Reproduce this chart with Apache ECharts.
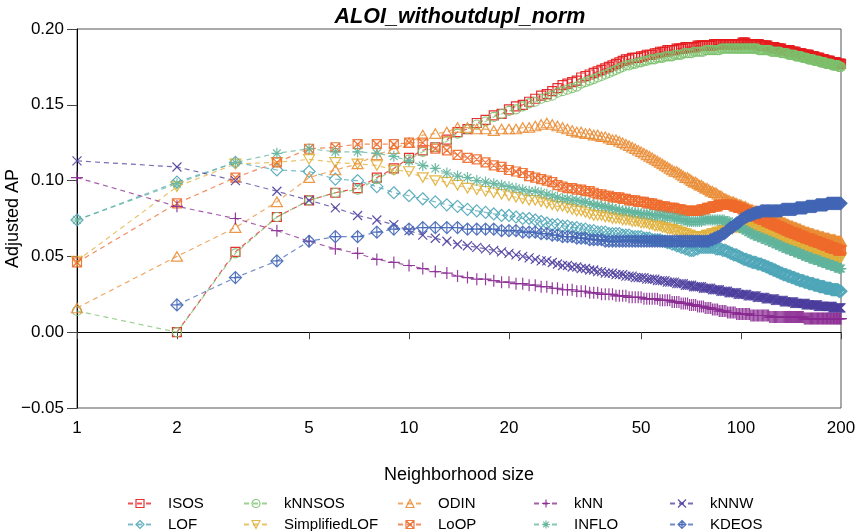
<!DOCTYPE html>
<html>
<head>
<meta charset="utf-8">
<script src="https://cdn.jsdelivr.net/npm/echarts@6/dist/echarts.min.js"></script>
<style>
  html, body { margin: 0; padding: 0; background: #ffffff; }
  #chart { width: 857px; height: 531px; }
</style>
</head>
<body>
<div id="chart"></div>
<script>
// Neighborhood size k runs from 1 to 200; each array below holds Adjusted AP for k = 1..200.
const neighborhoodSizes = Array.from({ length: 200 }, (_, i) => i + 1);
const xTickValues = [1, 2, 5, 10, 20, 50, 100, 200];

const isos = [
  null,0.000,0.053,0.076,0.087,0.092,0.095,0.102,0.108,0.115,
  0.120,0.122,0.127,0.132,0.134,0.138,0.140,0.143,0.144,0.147,
  0.149,0.150,0.152,0.154,0.156,0.157,0.159,0.161,0.163,0.164,
  0.165,0.166,0.168,0.169,0.170,0.171,0.172,0.173,0.174,0.175,
  0.176,0.177,0.178,0.179,0.180,0.180,0.181,0.181,0.181,0.182,
  0.182,0.183,0.183,0.183,0.184,0.184,0.185,0.185,0.185,0.186,
  0.186,0.186,0.186,0.187,0.187,0.187,0.187,0.188,0.188,0.188,
  0.188,0.188,0.188,0.189,0.189,0.189,0.189,0.189,0.189,0.189,
  0.189,0.189,0.190,0.190,0.190,0.190,0.190,0.190,0.190,0.190,
  0.190,0.190,0.190,0.190,0.190,0.190,0.190,0.190,0.190,0.190,
  0.191,0.191,0.191,0.190,0.190,0.190,0.190,0.190,0.190,0.190,
  0.190,0.190,0.190,0.189,0.189,0.189,0.189,0.189,0.189,0.189,
  0.188,0.188,0.188,0.188,0.188,0.188,0.187,0.187,0.187,0.187,
  0.187,0.187,0.186,0.186,0.186,0.186,0.186,0.186,0.186,0.186,
  0.185,0.185,0.185,0.185,0.185,0.185,0.184,0.184,0.184,0.184,
  0.184,0.184,0.183,0.183,0.183,0.183,0.183,0.183,0.183,0.183,
  0.182,0.182,0.182,0.182,0.182,0.182,0.181,0.181,0.181,0.181,
  0.181,0.181,0.180,0.180,0.180,0.180,0.180,0.180,0.179,0.179,
  0.179,0.179,0.179,0.179,0.179,0.178,0.178,0.178,0.178,0.178,
  0.178,0.178,0.178,0.177,0.177,0.177,0.177,0.177,0.177,0.177
];

const knnsos = [
  0.014,0.000,0.052,0.076,0.087,0.092,0.094,0.101,0.107,0.114,
  0.119,0.122,0.126,0.131,0.134,0.137,0.139,0.142,0.144,0.146,
  0.147,0.149,0.151,0.152,0.154,0.155,0.156,0.158,0.159,0.160,
  0.161,0.162,0.164,0.165,0.166,0.167,0.168,0.169,0.170,0.171,
  0.172,0.173,0.174,0.175,0.176,0.176,0.177,0.177,0.178,0.178,
  0.179,0.179,0.180,0.180,0.180,0.181,0.181,0.181,0.182,0.182,
  0.182,0.182,0.183,0.183,0.183,0.183,0.184,0.184,0.184,0.184,
  0.184,0.185,0.185,0.185,0.185,0.185,0.185,0.186,0.186,0.186,
  0.186,0.186,0.186,0.186,0.186,0.186,0.187,0.187,0.187,0.187,
  0.187,0.187,0.187,0.187,0.187,0.187,0.187,0.187,0.187,0.187,
  0.187,0.187,0.187,0.187,0.187,0.187,0.187,0.187,0.187,0.187,
  0.187,0.187,0.186,0.186,0.186,0.186,0.186,0.186,0.186,0.186,
  0.186,0.186,0.185,0.185,0.185,0.185,0.185,0.185,0.185,0.185,
  0.185,0.184,0.184,0.184,0.184,0.184,0.184,0.184,0.183,0.183,
  0.183,0.183,0.183,0.183,0.183,0.182,0.182,0.182,0.182,0.182,
  0.182,0.182,0.181,0.181,0.181,0.181,0.181,0.181,0.180,0.180,
  0.180,0.180,0.180,0.180,0.180,0.179,0.179,0.179,0.179,0.179,
  0.179,0.179,0.178,0.178,0.178,0.178,0.178,0.178,0.178,0.177,
  0.177,0.177,0.177,0.177,0.177,0.177,0.177,0.176,0.176,0.176,
  0.176,0.176,0.176,0.176,0.176,0.176,0.175,0.175,0.175,0.175
];

const odin = [
  0.016,0.050,0.069,0.086,0.102,0.107,0.111,0.117,0.121,0.125,
  0.130,0.131,0.132,0.135,0.135,0.134,0.134,0.133,0.134,0.134,
  0.134,0.135,0.135,0.136,0.137,0.138,0.137,0.136,0.135,0.134,
  0.133,0.132,0.132,0.131,0.131,0.130,0.130,0.129,0.129,0.128,
  0.127,0.127,0.126,0.125,0.124,0.123,0.122,0.121,0.120,0.119,
  0.118,0.117,0.116,0.115,0.114,0.113,0.112,0.111,0.110,0.109,
  0.108,0.107,0.106,0.106,0.105,0.104,0.103,0.102,0.102,0.101,
  0.100,0.099,0.099,0.098,0.097,0.097,0.096,0.095,0.095,0.094,
  0.093,0.093,0.092,0.092,0.091,0.090,0.090,0.089,0.088,0.088,
  0.087,0.087,0.086,0.086,0.086,0.085,0.085,0.084,0.084,0.084,
  0.083,0.083,0.083,0.082,0.082,0.081,0.081,0.081,0.080,0.080,
  0.080,0.079,0.079,0.079,0.078,0.078,0.078,0.077,0.077,0.077,
  0.077,0.076,0.076,0.076,0.075,0.075,0.075,0.074,0.074,0.074,
  0.073,0.073,0.073,0.072,0.072,0.072,0.071,0.071,0.071,0.070,
  0.070,0.070,0.070,0.069,0.069,0.069,0.069,0.068,0.068,0.068,
  0.068,0.067,0.067,0.067,0.067,0.066,0.066,0.066,0.066,0.066,
  0.065,0.065,0.065,0.065,0.065,0.064,0.064,0.064,0.064,0.064,
  0.064,0.063,0.063,0.063,0.063,0.063,0.063,0.062,0.062,0.062,
  0.062,0.062,0.062,0.062,0.061,0.061,0.061,0.061,0.061,0.061,
  0.061,0.061,0.060,0.060,0.060,0.060,0.060,0.060,0.060,0.060
];

const loop = [
  0.046,0.085,0.102,0.112,0.121,0.122,0.124,0.124,0.124,0.125,
  0.125,0.121,0.120,0.117,0.115,0.114,0.112,0.110,0.109,0.107,
  0.106,0.105,0.103,0.102,0.101,0.100,0.099,0.097,0.096,0.095,
  0.095,0.094,0.094,0.093,0.093,0.092,0.091,0.091,0.090,0.090,
  0.089,0.089,0.089,0.088,0.088,0.087,0.087,0.087,0.086,0.086,
  0.086,0.085,0.085,0.085,0.084,0.084,0.083,0.083,0.083,0.082,
  0.082,0.082,0.082,0.081,0.081,0.081,0.080,0.080,0.080,0.080,
  0.080,0.080,0.080,0.080,0.080,0.081,0.081,0.081,0.082,0.082,
  0.082,0.083,0.083,0.083,0.083,0.084,0.084,0.084,0.084,0.084,
  0.084,0.084,0.084,0.084,0.083,0.083,0.083,0.082,0.082,0.082,
  0.081,0.081,0.080,0.080,0.079,0.079,0.078,0.078,0.077,0.077,
  0.076,0.076,0.075,0.075,0.075,0.074,0.074,0.074,0.073,0.073,
  0.073,0.072,0.072,0.072,0.071,0.071,0.071,0.070,0.070,0.070,
  0.069,0.069,0.069,0.068,0.068,0.068,0.067,0.067,0.067,0.066,
  0.066,0.066,0.066,0.065,0.065,0.065,0.065,0.064,0.064,0.064,
  0.064,0.063,0.063,0.063,0.063,0.062,0.062,0.062,0.062,0.062,
  0.061,0.061,0.061,0.061,0.060,0.060,0.060,0.060,0.060,0.059,
  0.059,0.059,0.059,0.059,0.058,0.058,0.058,0.058,0.058,0.057,
  0.057,0.057,0.057,0.057,0.056,0.056,0.056,0.056,0.056,0.055,
  0.055,0.055,0.055,0.055,0.055,0.054,0.054,0.054,0.054,0.054
];

const inflo = [
  0.074,0.098,0.112,0.118,0.121,0.119,0.119,0.118,0.116,0.113,
  0.110,0.108,0.105,0.103,0.102,0.100,0.099,0.098,0.097,0.096,
  0.095,0.094,0.093,0.093,0.092,0.091,0.090,0.089,0.088,0.088,
  0.087,0.087,0.086,0.086,0.085,0.084,0.084,0.083,0.083,0.082,
  0.082,0.081,0.081,0.080,0.080,0.080,0.079,0.079,0.079,0.078,
  0.078,0.078,0.078,0.077,0.077,0.077,0.077,0.077,0.076,0.076,
  0.076,0.076,0.075,0.075,0.075,0.074,0.074,0.074,0.073,0.073,
  0.073,0.073,0.073,0.073,0.073,0.073,0.074,0.074,0.074,0.074,
  0.074,0.074,0.074,0.074,0.074,0.074,0.074,0.074,0.074,0.073,
  0.073,0.073,0.072,0.072,0.071,0.071,0.070,0.070,0.069,0.069,
  0.068,0.068,0.067,0.067,0.066,0.066,0.065,0.065,0.064,0.064,
  0.064,0.063,0.063,0.063,0.062,0.062,0.062,0.061,0.061,0.061,
  0.060,0.060,0.060,0.059,0.059,0.059,0.058,0.058,0.058,0.057,
  0.057,0.057,0.056,0.056,0.056,0.055,0.055,0.055,0.055,0.054,
  0.054,0.054,0.054,0.053,0.053,0.053,0.053,0.052,0.052,0.052,
  0.052,0.051,0.051,0.051,0.051,0.050,0.050,0.050,0.050,0.049,
  0.049,0.049,0.049,0.049,0.048,0.048,0.048,0.048,0.048,0.047,
  0.047,0.047,0.047,0.047,0.046,0.046,0.046,0.046,0.046,0.045,
  0.045,0.045,0.045,0.045,0.045,0.044,0.044,0.044,0.044,0.044,
  0.043,0.043,0.043,0.043,0.043,0.043,0.042,0.042,0.042,0.042
];

const simplifiedLof = [
  0.047,0.096,0.111,0.112,0.114,0.112,0.111,0.110,0.107,0.106,
  0.102,0.100,0.099,0.097,0.095,0.094,0.093,0.092,0.091,0.090,
  0.089,0.088,0.087,0.087,0.086,0.085,0.084,0.083,0.083,0.082,
  0.081,0.080,0.080,0.079,0.078,0.077,0.077,0.077,0.076,0.076,
  0.075,0.075,0.075,0.074,0.074,0.074,0.073,0.073,0.073,0.072,
  0.072,0.072,0.071,0.071,0.070,0.070,0.070,0.069,0.069,0.068,
  0.068,0.068,0.067,0.067,0.066,0.066,0.065,0.065,0.064,0.064,
  0.063,0.063,0.063,0.063,0.063,0.063,0.063,0.063,0.064,0.064,
  0.064,0.065,0.065,0.065,0.066,0.066,0.066,0.067,0.067,0.067,
  0.068,0.068,0.068,0.068,0.069,0.069,0.069,0.069,0.069,0.069,
  0.069,0.069,0.069,0.069,0.069,0.069,0.069,0.068,0.068,0.068,
  0.068,0.067,0.067,0.067,0.066,0.066,0.066,0.065,0.065,0.065,
  0.064,0.064,0.064,0.063,0.063,0.063,0.062,0.062,0.062,0.061,
  0.061,0.061,0.061,0.060,0.060,0.060,0.060,0.059,0.059,0.059,
  0.059,0.058,0.058,0.058,0.058,0.057,0.057,0.057,0.057,0.056,
  0.056,0.056,0.056,0.056,0.055,0.055,0.055,0.055,0.055,0.054,
  0.054,0.054,0.054,0.054,0.053,0.053,0.053,0.053,0.053,0.053,
  0.052,0.052,0.052,0.052,0.052,0.052,0.051,0.051,0.051,0.051,
  0.051,0.051,0.051,0.050,0.050,0.050,0.050,0.050,0.050,0.050,
  0.050,0.050,0.050,0.050,0.050,0.050,0.049,0.049,0.049,0.049
];

const lof = [
  0.074,0.099,0.112,0.107,0.106,0.101,0.100,0.096,0.092,0.090,
  0.088,0.086,0.084,0.083,0.081,0.080,0.079,0.078,0.077,0.077,
  0.076,0.075,0.075,0.074,0.073,0.072,0.071,0.071,0.070,0.070,
  0.069,0.069,0.068,0.068,0.067,0.067,0.066,0.066,0.066,0.065,
  0.065,0.065,0.065,0.064,0.064,0.064,0.063,0.063,0.063,0.063,
  0.062,0.062,0.062,0.061,0.061,0.061,0.061,0.060,0.060,0.059,
  0.059,0.058,0.058,0.057,0.057,0.056,0.056,0.055,0.055,0.054,
  0.054,0.054,0.055,0.055,0.056,0.056,0.056,0.056,0.056,0.056,
  0.056,0.056,0.056,0.055,0.055,0.055,0.055,0.054,0.054,0.054,
  0.053,0.053,0.052,0.052,0.051,0.051,0.051,0.050,0.050,0.049,
  0.049,0.048,0.048,0.048,0.047,0.047,0.047,0.046,0.046,0.046,
  0.046,0.045,0.045,0.045,0.045,0.044,0.044,0.044,0.043,0.043,
  0.043,0.042,0.042,0.042,0.041,0.041,0.041,0.040,0.040,0.040,
  0.039,0.039,0.039,0.038,0.038,0.038,0.038,0.037,0.037,0.037,
  0.037,0.036,0.036,0.036,0.036,0.035,0.035,0.035,0.035,0.034,
  0.034,0.034,0.034,0.034,0.033,0.033,0.033,0.033,0.033,0.032,
  0.032,0.032,0.032,0.032,0.032,0.031,0.031,0.031,0.031,0.031,
  0.031,0.030,0.030,0.030,0.030,0.030,0.030,0.030,0.029,0.029,
  0.029,0.029,0.029,0.029,0.029,0.029,0.028,0.028,0.028,0.028,
  0.028,0.028,0.028,0.028,0.028,0.028,0.027,0.027,0.027,0.027
];

const kdeos = [
  null,0.018,0.036,0.047,0.060,0.063,0.063,0.066,0.068,0.068,
  0.069,0.069,0.069,0.069,0.068,0.068,0.068,0.068,0.067,0.067,
  0.067,0.066,0.066,0.066,0.065,0.065,0.064,0.064,0.063,0.063,
  0.063,0.062,0.062,0.062,0.061,0.061,0.061,0.061,0.060,0.060,
  0.060,0.060,0.060,0.060,0.060,0.060,0.060,0.060,0.060,0.060,
  0.060,0.060,0.060,0.060,0.060,0.060,0.060,0.060,0.060,0.060,
  0.060,0.060,0.060,0.060,0.060,0.060,0.060,0.060,0.060,0.060,
  0.060,0.060,0.060,0.060,0.060,0.060,0.060,0.060,0.060,0.060,
  0.061,0.061,0.062,0.062,0.063,0.063,0.064,0.065,0.065,0.066,
  0.067,0.068,0.069,0.069,0.070,0.071,0.072,0.072,0.073,0.074,
  0.075,0.075,0.076,0.076,0.077,0.077,0.077,0.078,0.078,0.078,
  0.079,0.079,0.079,0.079,0.080,0.080,0.080,0.080,0.080,0.080,
  0.080,0.080,0.080,0.080,0.080,0.080,0.080,0.080,0.080,0.080,
  0.080,0.080,0.081,0.081,0.081,0.081,0.081,0.081,0.081,0.081,
  0.081,0.081,0.081,0.081,0.081,0.081,0.082,0.082,0.082,0.082,
  0.082,0.082,0.082,0.082,0.082,0.082,0.082,0.083,0.083,0.083,
  0.083,0.083,0.083,0.083,0.083,0.083,0.083,0.083,0.084,0.084,
  0.084,0.084,0.084,0.084,0.084,0.084,0.084,0.084,0.084,0.084,
  0.084,0.085,0.085,0.085,0.085,0.085,0.085,0.085,0.085,0.085,
  0.085,0.085,0.085,0.085,0.085,0.085,0.085,0.085,0.085,0.085
];

const knnw = [
  0.113,0.109,0.100,0.093,0.087,0.082,0.077,0.074,0.071,0.067,
  0.064,0.062,0.060,0.058,0.057,0.056,0.055,0.054,0.053,0.052,
  0.051,0.050,0.049,0.048,0.047,0.047,0.046,0.045,0.044,0.044,
  0.043,0.043,0.042,0.042,0.041,0.041,0.040,0.040,0.039,0.039,
  0.039,0.038,0.038,0.038,0.037,0.037,0.037,0.036,0.036,0.036,
  0.036,0.035,0.035,0.035,0.035,0.034,0.034,0.034,0.034,0.033,
  0.033,0.033,0.033,0.032,0.032,0.032,0.032,0.031,0.031,0.031,
  0.031,0.030,0.030,0.030,0.030,0.030,0.029,0.029,0.029,0.029,
  0.029,0.028,0.028,0.028,0.028,0.028,0.027,0.027,0.027,0.027,
  0.027,0.026,0.026,0.026,0.026,0.026,0.026,0.025,0.025,0.025,
  0.025,0.025,0.025,0.025,0.024,0.024,0.024,0.024,0.024,0.024,
  0.024,0.023,0.023,0.023,0.023,0.023,0.023,0.023,0.022,0.022,
  0.022,0.022,0.022,0.022,0.022,0.022,0.021,0.021,0.021,0.021,
  0.021,0.021,0.021,0.021,0.020,0.020,0.020,0.020,0.020,0.020,
  0.020,0.020,0.020,0.020,0.019,0.019,0.019,0.019,0.019,0.019,
  0.019,0.019,0.019,0.019,0.019,0.019,0.018,0.018,0.018,0.018,
  0.018,0.018,0.018,0.018,0.018,0.018,0.018,0.018,0.018,0.018,
  0.017,0.017,0.017,0.017,0.017,0.017,0.017,0.017,0.017,0.017,
  0.017,0.017,0.017,0.017,0.017,0.017,0.017,0.017,0.016,0.016,
  0.016,0.016,0.016,0.016,0.016,0.016,0.016,0.016,0.016,0.016
];

const knn = [
  0.102,0.083,0.075,0.067,0.060,0.055,0.052,0.048,0.046,0.044,
  0.042,0.040,0.039,0.037,0.036,0.035,0.035,0.034,0.033,0.033,
  0.032,0.032,0.031,0.031,0.030,0.030,0.029,0.029,0.028,0.028,
  0.028,0.027,0.027,0.027,0.026,0.026,0.026,0.025,0.025,0.025,
  0.025,0.024,0.024,0.024,0.024,0.023,0.023,0.023,0.023,0.023,
  0.022,0.022,0.022,0.022,0.022,0.022,0.021,0.021,0.021,0.021,
  0.021,0.020,0.020,0.020,0.020,0.019,0.019,0.019,0.019,0.018,
  0.018,0.018,0.018,0.017,0.017,0.017,0.017,0.016,0.016,0.016,
  0.016,0.015,0.015,0.015,0.015,0.014,0.014,0.014,0.014,0.014,
  0.013,0.013,0.013,0.013,0.013,0.013,0.012,0.012,0.012,0.012,
  0.012,0.012,0.012,0.012,0.012,0.012,0.011,0.011,0.011,0.011,
  0.011,0.011,0.011,0.011,0.011,0.011,0.011,0.011,0.011,0.011,
  0.011,0.010,0.010,0.010,0.010,0.010,0.010,0.010,0.010,0.010,
  0.010,0.010,0.010,0.010,0.010,0.010,0.010,0.010,0.010,0.010,
  0.010,0.010,0.010,0.010,0.010,0.010,0.010,0.010,0.010,0.010,
  0.010,0.010,0.010,0.010,0.009,0.009,0.009,0.009,0.009,0.009,
  0.009,0.009,0.009,0.009,0.009,0.009,0.009,0.009,0.009,0.009,
  0.009,0.009,0.009,0.009,0.009,0.009,0.009,0.009,0.009,0.009,
  0.009,0.009,0.009,0.009,0.009,0.009,0.009,0.009,0.009,0.009,
  0.009,0.009,0.009,0.009,0.009,0.009,0.009,0.009,0.009,0.009
];

// Open marker outlines (stroked, not filled), one per method.
const SYM = {
  square:      'path://M0,0L10,0L10,10L0,10Z',
  diamond:     'path://M5,0L10,5L5,10L0,5Z',
  triUp:       'path://M5,0L10,8.66L0,8.66Z',
  triDown:     'path://M0,0L10,0L5,8.66Z',
  squareX:     'path://M0,0L10,0L10,10L0,10ZM0,0L10,10M10,0L0,10',
  plus:        'path://M5,0L5,10M0,5L10,5',
  asterisk:    'path://M5,0L5,10M0,5L10,5M1.5,1.5L8.5,8.5M8.5,1.5L1.5,8.5',
  cross:       'path://M0,0L10,10M10,0L0,10',
  diamondPlus: 'path://M5,0L10,5L5,10L0,5ZM5,0L5,10M0,5L10,5'
};

const methods = [
  { name: 'ISOS',          values: isos,          color: '#e41a1c', symbol: SYM.square,      size: 9 },
  { name: 'LOF',           values: lof,           color: '#4fa6b8', symbol: SYM.diamond,     size: 12 },
  { name: 'kNNSOS',        values: knnsos,        color: '#7cc16d', symbol: 'circle',        size: 9 },
  { name: 'SimplifiedLOF', values: simplifiedLof, color: '#e0b03a', symbol: SYM.triDown,     size: [11, 9.5] },
  { name: 'ODIN',          values: odin,          color: '#ea8d35', symbol: SYM.triUp,       size: [11, 9.5] },
  { name: 'LoOP',          values: loop,          color: '#ee6a2b', symbol: SYM.squareX,     size: 9 },
  { name: 'kNN',           values: knn,           color: '#8a2a92', symbol: SYM.plus,        size: 12 },
  { name: 'INFLO',         values: inflo,         color: '#62b49c', symbol: SYM.asterisk,    size: 11 },
  { name: 'kNNW',          values: knnw,          color: '#4b3d9c', symbol: SYM.cross,       size: 9 },
  { name: 'KDEOS',         values: kdeos,         color: '#4266b5', symbol: SYM.diamondPlus, size: 12 }
];

// Legend grid: five columns, two rows.
const legendColumns = [
  ['ISOS', 'LOF'],
  ['kNNSOS', 'SimplifiedLOF'],
  ['ODIN', 'LoOP'],
  ['kNN', 'INFLO'],
  ['kNNW', 'KDEOS']
];
const legendLefts = [122, 238, 392, 528, 664];
const legendRowTops = [491, 512];

const FONT = '"Liberation Sans", Arial, Helvetica, sans-serif';

const series = methods.map(m => ({
  name: m.name,
  type: 'line',
  data: neighborhoodSizes
    .map((k, i) => [k, m.values[i]])
    .filter(p => p[1] !== null),
  symbol: m.symbol,
  symbolSize: m.size,
  showSymbol: true,
  showAllSymbol: true,
  animation: false,
  lineStyle: { color: m.color, width: 1.2, type: [5, 4], opacity: 0.75 },
  itemStyle: { color: 'none', borderColor: m.color, borderWidth: 1.2, opacity: 0.9 },
  emphasis: { disabled: true }
}));

const legends = [];
legendColumns.forEach((names, c) => {
  names.forEach((name, r) => {
    legends.push({
      data: [name],
      left: legendLefts[c],
      top: legendRowTops[r],
      itemWidth: 24,
      itemHeight: 10,
      selectedMode: false,
      itemStyle: { color: 'transparent', borderWidth: 1.2 },
      textStyle: { fontFamily: FONT, fontSize: 15, color: '#000', padding: [0, 0, 0, 11] }
    });
  });
});

const chart = echarts.init(document.getElementById('chart'), null, { renderer: 'canvas' });
chart.setOption({
  animation: false,
  backgroundColor: '#ffffff',
  title: {
    text: 'ALOI_withoutdupl_norm',
    left: 455,
    top: 1,
    textAlign: 'center',
    textStyle: { fontFamily: FONT, fontSize: 21.5, fontWeight: 'bold', fontStyle: 'italic', color: '#000' }
  },
  legend: legends,
  grid: {
    left: 77, right: 16, top: 29, bottom: 123,
    outerBoundsMode: 'none',
    containLabel: false,
    show: true, borderColor: '#555', borderWidth: 1, backgroundColor: 'transparent'
  },
  xAxis: {
    type: 'log',
    logBase: 10,
    min: 1,
    max: 200,
    name: 'Neighborhood size',
    nameLocation: 'middle',
    nameGap: 58,
    nameMoveOverlap: false,
    nameTextStyle: { fontFamily: FONT, fontSize: 18, color: '#000' },
    axisLine: { show: true, lineStyle: { color: '#000', width: 1 } },
    axisTick: { show: true, length: 7, customValues: xTickValues, lineStyle: { color: '#444' } },
    axisLabel: {
      customValues: xTickValues,
      margin: 12,
      fontFamily: FONT, fontSize: 17, color: '#000',
      formatter: v => String(Math.round(v))
    },
    splitLine: { show: false },
    minorTick: { show: false }
  },
  yAxis: {
    type: 'value',
    min: -0.05,
    max: 0.20,
    interval: 0.05,
    name: 'Adjusted AP',
    nameLocation: 'middle',
    nameRotate: 90,
    nameGap: 55,
    nameMoveOverlap: false,
    nameTextStyle: { fontFamily: FONT, fontSize: 18, color: '#000' },
    axisLine: { show: true, lineStyle: { color: '#000', width: 1 } },
    axisTick: { show: true, length: 10, inside: false, lineStyle: { color: '#444' } },
    axisLabel: {
      margin: 13,
      fontFamily: FONT, fontSize: 17, color: '#000',
      formatter: v => v.toFixed(2).replace('-', '\u2212')
    },
    splitLine: { show: false }
  },
  series: series
});
</script>
</body>
</html>
